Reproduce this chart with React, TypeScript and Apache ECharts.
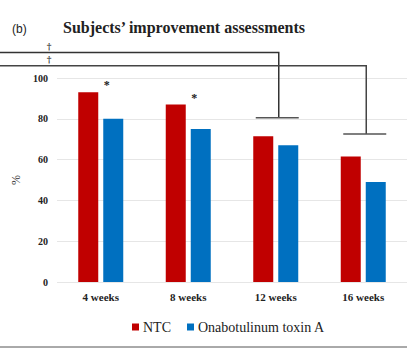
import React, { useEffect, useRef } from "react";
import * as echarts from "echarts";

const categories = ["4 weeks", "8 weeks", "12 weeks", "16 weeks"];
const ntcValues = [93, 87, 71.5, 61.5];
const onaValues = [80, 75, 67, 49];
const yTicks = [0, 20, 40, 60, 80, 100];
const starCategories = ["4 weeks", "8 weeks"];
const bracketTargets = ["12 weeks", "16 weeks"];
const bracketTopValues = [112.5, 106];
const bracketEndValues = [80.5, 72.5];

export default function App() {
  const ref = useRef<HTMLDivElement>(null);
  useEffect(() => {
    document.body.style.margin = "0";
    if (!ref.current) return;
    const chart = echarts.init(ref.current, undefined, { renderer: "svg" });
    const serif = "Liberation Serif";
    chart.setOption({
      animation: false,
      backgroundColor: "#ffffff",
      textStyle: { fontFamily: serif },
      grid: { left: 57, right: 7, top: 78, bottom: 76, containLabel: false },
      legend: {
        left: 127,
        top: 315,
        itemWidth: 7,
        itemHeight: 7,
        itemGap: 16,
        icon: "rect",
        textStyle: { fontFamily: serif, fontSize: 14, color: "#222", padding: [0, 0, 0, -1] },
        data: ["NTC", "Onabotulinum toxin A"],
      },
      xAxis: {
        type: "category",
        data: categories,
        axisLine: { show: false },
        axisTick: { show: false },
        axisLabel: { fontFamily: serif, fontWeight: "bold", fontSize: 11, color: "#222", margin: 9 },
      },
      yAxis: {
        type: "value",
        min: yTicks[0],
        max: yTicks[yTicks.length - 1],
        interval: 20,
        name: "%",
        nameLocation: "middle",
        nameGap: 32,
        nameRotate: 90,
        nameTextStyle: { fontFamily: serif, fontSize: 12, color: "#333" },
        axisLabel: { fontFamily: serif, fontWeight: "bold", fontSize: 10, color: "#222", margin: 9 },
        splitLine: { lineStyle: { color: "#e6e6e6", width: 1 } },
        axisLine: { show: false },
        axisTick: { show: false },
      },
      series: [
        {
          name: "NTC",
          type: "bar",
          data: ntcValues,
          barWidth: 20,
          barGap: "25%",
          itemStyle: { color: "#C00000" },
        },
        {
          name: "Onabotulinum toxin A",
          type: "bar",
          data: onaValues,
          barWidth: 20,
          itemStyle: { color: "#0070C0" },
        },
      ],
    });

    const px = (cat: string, v: number) =>
      chart.convertToPixel({ xAxisIndex: 0, yAxisIndex: 0 }, [cat, v]) as number[];

    const elements: any[] = [];
    elements.push({
      type: "text",
      left: 12,
      top: 23,
      style: { text: "(b)", font: "12px 'Liberation Sans', Arial, sans-serif", fill: "#222" },
    });
    elements.push({
      type: "text",
      left: 63,
      top: 19,
      style: { text: "Subjects\u2019 improvement assessments", font: "bold 16px 'Liberation Serif'", fill: "#222" },
    });
    bracketTargets.forEach((cat, i) => {
      const top = px(cat, bracketTopValues[i]);
      const end = px(cat, bracketEndValues[i]);
      elements.push({
        type: "polyline",
        shape: { points: [[0, top[1]], [top[0] + 3, top[1]], [top[0] + 3, end[1]]] },
        style: { stroke: i === 0 ? "#333" : "#444", lineWidth: 1.5, fill: null },
      });
      elements.push({
        type: "line",
        shape: { x1: top[0] - 20, y1: end[1], x2: top[0] + 23, y2: end[1] },
        style: { stroke: "#555", lineWidth: 1.5 },
      });
      elements.push({
        type: "text",
        x: 49,
        y: top[1] - 1,
        style: { text: "\u2020", font: "bold 9px 'DejaVu Serif'", fill: "#333333", align: "center", verticalAlign: "bottom" },
      });
    });
    starCategories.forEach((cat) => {
      const idx = categories.indexOf(cat);
      const p = px(cat, ntcValues[idx]);
      elements.push({
        type: "text",
        x: p[0] + 6,
        y: p[1] - 1,
        style: { text: "*", font: "bold 12px 'Liberation Serif'", fill: "#222", align: "center", verticalAlign: "bottom" },
      });
    });
    elements.push({
      type: "line",
      shape: { x1: 0, y1: 347, x2: 407, y2: 347 },
      style: { stroke: "#555", lineWidth: 1 },
    });
    chart.setOption({ graphic: { elements } });
    return () => chart.dispose();
  }, []);
  return <div ref={ref} style={{ width: 414, height: 358 }} />;
}
